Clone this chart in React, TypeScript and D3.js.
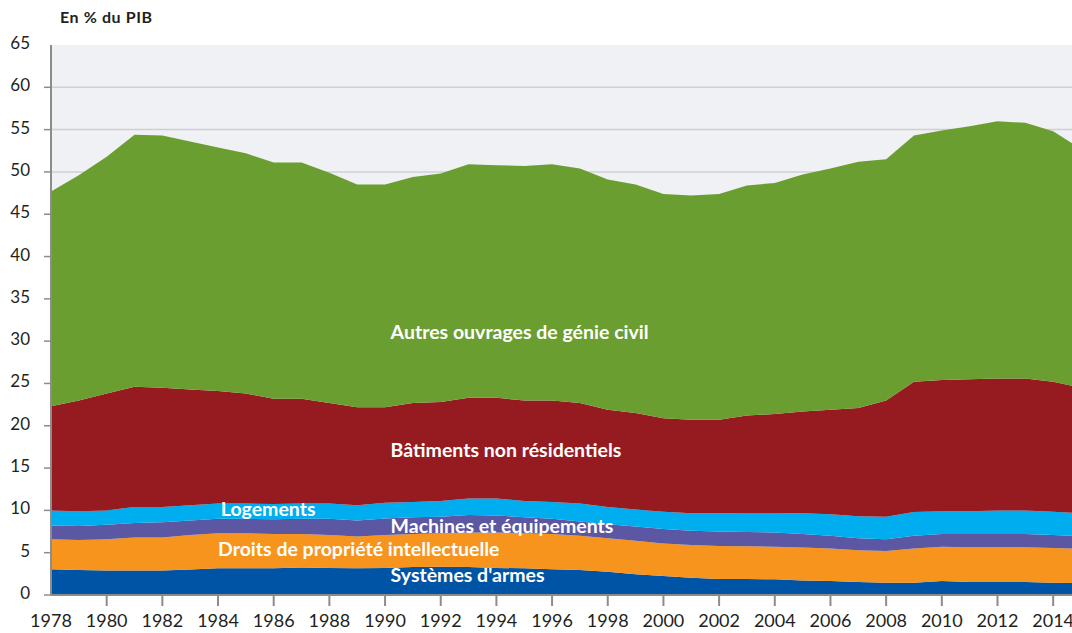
import React, { useEffect, useRef } from 'react'
import * as d3 from 'd3'

// Years shown (the last one sits just beyond the right edge)
const years = d3.range(1978, 2016)

// Values, % of GDP, per component (bottom to top)
const systemesArmes = [3.05, 2.95, 2.9, 2.9, 2.9, 3.0, 3.15, 3.15, 3.15, 3.25, 3.2, 3.15, 3.2, 3.3, 3.35, 3.3, 3.2, 3.15, 3.05, 2.95, 2.75, 2.45, 2.25, 2.05, 1.9, 1.9, 1.85, 1.7, 1.65, 1.55, 1.45, 1.45, 1.65, 1.55, 1.55, 1.55, 1.45, 1.4]
const droitsPropriete = [3.55, 3.55, 3.7, 3.9, 3.9, 4.1, 4.15, 4.15, 4.05, 3.95, 3.9, 3.75, 3.9, 3.9, 3.95, 4.1, 4.2, 4.15, 4.15, 4.05, 3.95, 3.95, 3.85, 3.85, 3.9, 3.85, 3.85, 3.9, 3.85, 3.75, 3.75, 4.05, 4.05, 4.1, 4.1, 4.1, 4.1, 4.05]
const machines = [1.6, 1.65, 1.7, 1.7, 1.8, 1.7, 1.7, 1.7, 1.75, 1.8, 1.9, 1.9, 1.95, 2.0, 1.95, 2.05, 2.0, 1.9, 1.8, 1.7, 1.65, 1.7, 1.7, 1.7, 1.7, 1.7, 1.7, 1.6, 1.5, 1.4, 1.4, 1.5, 1.5, 1.55, 1.55, 1.55, 1.55, 1.5]
const logements = [1.8, 1.75, 1.7, 1.9, 1.8, 1.8, 1.8, 1.8, 1.8, 1.8, 1.8, 1.8, 1.85, 1.8, 1.85, 1.95, 2.0, 1.9, 2.0, 2.1, 2.05, 2.0, 2.05, 2.05, 2.15, 2.25, 2.3, 2.45, 2.55, 2.6, 2.65, 2.8, 2.7, 2.7, 2.8, 2.8, 2.75, 2.7]
const batiments = [12.3, 13.1, 13.8, 14.2, 14.1, 13.7, 13.3, 13.0, 12.45, 12.4, 11.9, 11.6, 11.3, 11.7, 11.7, 11.9, 11.9, 11.9, 12.0, 11.9, 11.5, 11.4, 11.05, 11.05, 11.05, 11.5, 11.7, 12.05, 12.35, 12.8, 13.75, 15.4, 15.5, 15.6, 15.6, 15.6, 15.35, 14.85]
const autresOuvrages = [25.4, 26.6, 28.0, 29.8, 29.8, 29.3, 28.8, 28.4, 27.9, 27.9, 27.2, 26.3, 26.3, 26.7, 27.0, 27.6, 27.5, 27.7, 27.9, 27.7, 27.2, 27.0, 26.5, 26.5, 26.7, 27.2, 27.3, 28.0, 28.5, 29.1, 28.5, 29.1, 29.5, 29.9, 30.4, 30.2, 29.6, 28.2]

const seriesKeys = ['systemes', 'droits', 'machines', 'logements', 'batiments', 'autres']
const seriesColors = ['#0054a6', '#f7941d', '#5b57a2', '#00aeef', '#961b21', '#6b9e30']

const yTicks = d3.range(0, 66, 5)
const xTicks = d3.range(1978, 2015, 2)

// in-chart labels: text, anchor year, value (baseline)
const areaLabels = [
  { text: 'Autres ouvrages de génie civil', year: 1990.2, value: 30.25 },
  { text: 'Bâtiments non résidentiels', year: 1990.2, value: 16.35 },
  { text: 'Logements', year: 1984.1, value: 9.37 },
  { text: 'Machines et équipements', year: 1990.2, value: 7.36 },
  { text: 'Droits de propriété intellectuelle', year: 1984, value: 4.6 },
  { text: 'Systèmes d\'armes', year: 1990.2, value: 1.5 },
]

function App() {
  const ref = useRef(null)

  useEffect(() => {
    const W = 1072, H = 633
    const left = 51, top = 45, bottom = 595

    const data = years.map((y, i) => ({
      year: y,
      systemes: systemesArmes[i],
      droits: droitsPropriete[i],
      machines: machines[i],
      logements: logements[i],
      batiments: batiments[i],
      autres: autresOuvrages[i],
    }))

    const svg = d3.select(ref.current)
    svg.selectAll('*').remove()
    svg.attr('width', W).attr('height', H)
      .style('font-family', 'Lato, "Open Sans", sans-serif')

    const x = d3.scaleLinear().domain([1978, 2015]).range([left, 1081])
    const y = d3.scaleLinear().domain([0, 65]).range([bottom, top])

    // plot background
    svg.append('rect')
      .attr('x', left).attr('y', top)
      .attr('width', W - left).attr('height', bottom - top)
      .attr('fill', '#f0f1f4')

    // horizontal grid
    svg.append('g')
      .selectAll('line')
      .data(yTicks.filter(d => d > 0 && d < 65))
      .join('line')
      .attr('x1', left).attr('x2', W)
      .attr('y1', d => y(d)).attr('y2', d => y(d))
      .attr('stroke', '#cfd0d3')
      .attr('stroke-width', 1.5)

    const stacked = d3.stack().keys(seriesKeys)(data)
    const area = d3.area()
      .x(d => x(d.data.year))
      .y0(d => y(d[0]))
      .y1(d => y(d[1]))

    svg.append('g')
      .selectAll('path')
      .data(stacked)
      .join('path')
      .attr('d', area)
      .attr('fill', (d, i) => seriesColors[i])

    // axes
    svg.append('line')
      .attr('x1', left).attr('x2', left)
      .attr('y1', top).attr('y2', bottom)
      .attr('stroke', '#8c8c8c').attr('stroke-width', 2)
    svg.append('line')
      .attr('x1', left).attr('x2', W)
      .attr('y1', bottom).attr('y2', bottom)
      .attr('stroke', '#8c8c8c').attr('stroke-width', 2)

    // y ticks + labels
    const yg = svg.append('g')
    yg.selectAll('line')
      .data(yTicks.filter(d => d < 65))
      .join('line')
      .attr('x1', left - 7).attr('x2', left)
      .attr('y1', d => y(d)).attr('y2', d => y(d))
      .attr('stroke', '#8c8c8c').attr('stroke-width', 1.5)
    yg.selectAll('text')
      .data(yTicks)
      .join('text')
      .attr('x', 30)
      .attr('y', d => y(d) + 4)
      .attr('text-anchor', 'end')
      .attr('font-size', 17)
      .attr('fill', '#231f20')
      .text(d => d)

    // x ticks + labels
    const xg = svg.append('g')
    xg.selectAll('line')
      .data(xTicks.filter(d => d > 1978))
      .join('line')
      .attr('x1', d => x(d)).attr('x2', d => x(d))
      .attr('y1', bottom).attr('y2', bottom + 11)
      .attr('stroke', '#8c8c8c').attr('stroke-width', 2)
    xg.selectAll('text')
      .data(xTicks)
      .join('text')
      .attr('x', d => x(d))
      .attr('y', 627)
      .attr('text-anchor', 'middle')
      .attr('font-size', 18)
      .attr('fill', '#231f20')
      .text(d => d)

    // title
    svg.append('text')
      .attr('x', 60).attr('y', 23)
      .attr('font-size', 16)
      .attr('font-weight', 'bold')
      .attr('letter-spacing', 0.6)
      .attr('fill', '#231f20')
      .text('En % du PIB')

    // area labels
    svg.append('g')
      .selectAll('text')
      .data(areaLabels)
      .join('text')
      .attr('x', d => x(d.year))
      .attr('y', d => y(d.value))
      .attr('font-size', 19.5)
      .attr('font-weight', 'bold')
      .attr('fill', '#ffffff')
      .text(d => d.text)
  }, [])

  return (
    <div style={{ position: 'absolute', left: 0, top: 0, width: 1072, height: 633, overflow: 'hidden' }}>
      <svg ref={ref}></svg>
    </div>
  )
}

export default App
